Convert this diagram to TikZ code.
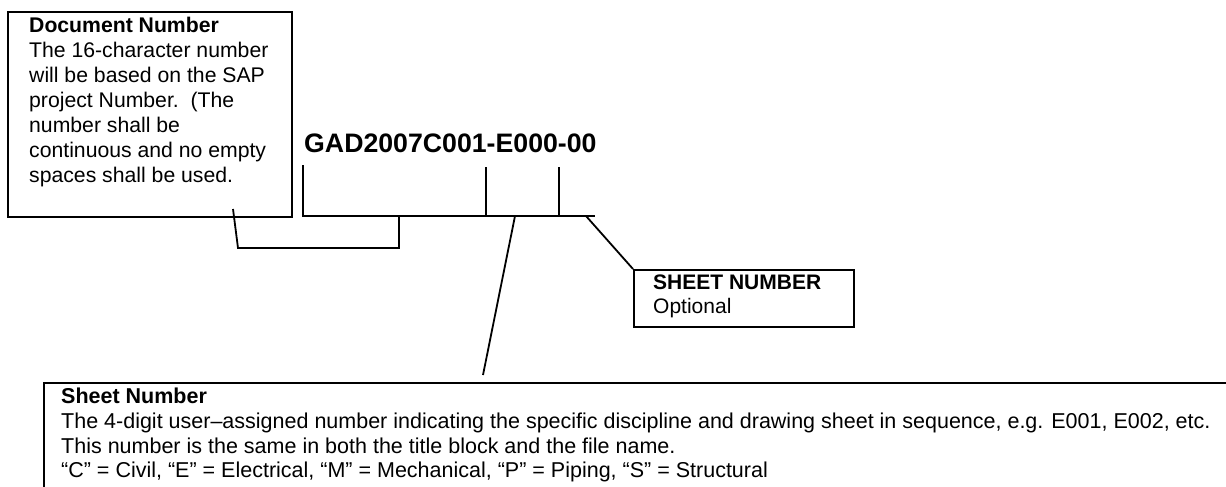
\documentclass[tikz,border=0pt]{standalone}
\usepackage{fontspec}
\setmainfont{Liberation Sans}
\usetikzlibrary{positioning}

\begin{document}
\begin{tikzpicture}[x=1pt,y=-1pt,
 b/.style={draw,line width=1.6pt,inner sep=0pt,anchor=north west},
 t/.style={align=left,inner sep=0pt,anchor=north west,font=\fontsize{21.5}{24.7}\selectfont},
 ln/.style={line width=1.8pt}]
\useasboundingbox (0,0) rectangle (1226,487);
\clip (0,0) rectangle (1226,487);
% boxes
\node[b,minimum width=284pt,minimum height=205pt] (doc) at (7,11) {};
\node[t,font=\fontsize{21.2}{25}\selectfont,below right=6pt and 22pt of doc.north west] (doctxt)
 {\textbf{Document Number}\\The 16-character number\\will be based on the SAP\\project Number.\ \ (The\\number shall be\\continuous and no empty\\spaces shall be used.};
\node[b,minimum width=220pt,minimum height=57pt] (opt) at (633,269) {};
\node[t,font=\fontsize{21}{23.5}\selectfont,below right=6pt and 20pt of opt.north west] (opttxt)
 {\textbf{SHEET NUMBER}\\Optional};
\node[b,minimum width=1250pt,minimum height=150pt] (sheet) at (43,382) {};
\node[t,below right=6pt and 18pt of sheet.north west] (sheettxt)
 {\textbf{Sheet Number}\\The 4-digit user\textendash assigned number indicating the specific discipline and drawing sheet in sequence, e.g. E001, E002, etc.\\This number is the same in both the title block and the file name.\\\textquotedblleft C\textquotedblright\ = Civil, \textquotedblleft E\textquotedblright\ = Electrical, \textquotedblleft M\textquotedblright\ = Mechanical, \textquotedblleft P\textquotedblright\ = Piping, \textquotedblleft S\textquotedblright\ = Structural};
% number
\node[inner sep=0pt,anchor=base west,font=\bfseries\fontsize{26.7}{30}\selectfont] (num) at (304,152) {GAD2007C001-E000-00};
% bracket
\coordinate (k1) at (303,165); \coordinate (k2) at (486,167); \coordinate (k3) at (559,167);
\coordinate (bl) at (303,216); \coordinate (br) at (595,216);
\coordinate (dj) at (399,216); \coordinate (sj) at (515,216); \coordinate (oj) at (586,216);
\coordinate (dl) at (233,209); \coordinate (dk) at (238,248); \coordinate (se) at (483,375);
\draw[ln] (k1) -- (bl) -- (br);
\draw[ln] (k2) -- (k2|-bl); \draw[ln] (k3) -- (k3|-bl);
\draw[ln] (dl) -- (dk) -| (dj);
\draw[ln] (sj) -- (se);
\draw[ln] (oj) -- (opt.north west);
\end{tikzpicture}
\end{document}
